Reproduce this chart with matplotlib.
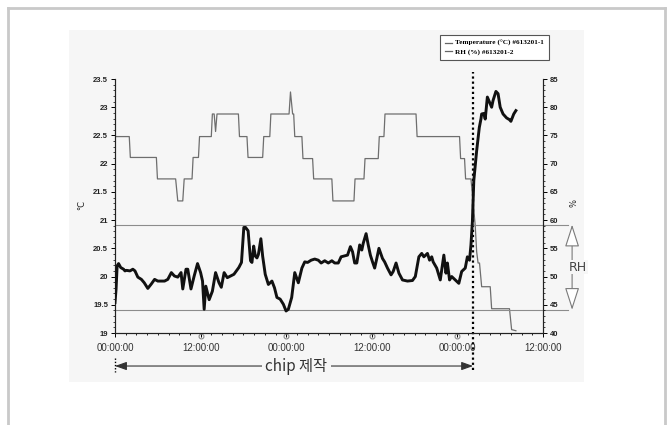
import matplotlib
matplotlib.use("Agg")
import matplotlib.pyplot as plt
import numpy as np
from matplotlib.lines import Line2D
from matplotlib.patches import Rectangle
from matplotlib.ticker import MultipleLocator, FuncFormatter

# ---------------- data ----------------
temp_hours = [0, 2.0, 2.15, 5.8, 5.95, 8.5, 8.8, 9.5, 9.7, 10.8, 10.95, 11.7, 11.85,
              13.5, 13.65, 13.9, 14.1, 14.3, 17.3, 17.45, 18.5, 18.65, 20.7, 20.85,
              21.7, 21.85, 24.4, 24.6, 24.9, 25.05, 25.2, 26.2, 26.35, 27.7, 27.85,
              30.4, 30.55, 33.5, 33.65, 34.9, 35.05, 36.9, 37.05, 37.7, 37.85, 42.2,
              42.35, 48.3, 48.45, 49.0, 49.15, 49.9, 50.2, 50.5, 50.7, 50.9, 51.1,
              51.4, 52.6, 52.8, 55.3, 55.6, 56.2]
temp_vals = [22.48, 22.48, 22.11, 22.11, 21.73, 21.73, 21.34, 21.34, 21.73, 21.73, 22.11, 22.11, 22.48,
             22.48, 22.88, 22.88, 22.57, 22.88, 22.88, 22.48, 22.48, 22.11, 22.11, 22.48,
             22.48, 22.88, 22.88, 23.27, 22.88, 22.88, 22.48, 22.48, 22.09, 22.09, 21.73,
             21.73, 21.34, 21.34, 21.73, 21.73, 22.09, 22.09, 22.48, 22.48, 22.88, 22.88,
             22.48, 22.48, 22.09, 22.09, 21.73, 21.73, 21.32, 20.9, 20.44, 20.24, 20.24,
             19.82, 19.82, 19.43, 19.43, 19.06, 19.04]

rh_hours = [0.0, 0.15, 0.3, 0.5, 0.8, 1.2, 1.4, 1.6, 2.1, 2.5, 2.8, 3.2, 3.7, 4.1, 4.6,
            5.1, 5.55, 6.0, 6.5, 6.95, 7.4, 7.9, 8.33, 8.8, 9.26, 9.5, 9.95, 10.2, 10.65,
            11.1, 11.57, 12.0, 12.27, 12.5, 12.73, 13.2, 13.65, 14.1, 14.58, 14.9, 15.3,
            15.74, 16.2, 16.67, 17.36, 17.73, 18.06, 18.3, 18.66, 19.0, 19.2, 19.44, 19.68,
            19.9, 20.1, 20.45, 20.7, 21.06, 21.5, 22.0, 22.36, 22.7, 23.15, 23.6, 23.98,
            24.3, 24.77, 25.2, 25.7, 26.2, 26.6, 27.0, 27.5, 28.0, 28.5, 28.9, 29.4, 29.9,
            30.4, 30.8, 31.3, 31.7, 32.6, 33.0, 33.3, 33.6, 33.9, 34.3, 34.6, 34.8, 35.2,
            35.5, 35.8, 36.1, 36.4, 36.7, 37.0, 37.5, 37.8, 38.2, 38.7, 39.0, 39.4, 39.8,
            40.3, 41.0, 41.7, 42.1, 42.6, 43.0, 43.3, 43.8, 44.1, 44.4, 44.6, 45.1, 45.6,
            46.1, 46.4, 46.6, 46.9, 47.2, 47.7, 48.2, 48.6, 49.1, 49.4, 49.7, 49.9, 50.1,
            50.2, 50.3, 50.7, 51.07, 51.3, 51.4, 51.7, 51.9, 52.2, 52.5, 52.8, 53.0, 53.4,
            53.7, 54.0, 54.4, 54.9, 55.3, 55.5, 55.9, 56.2]
rh_vals = [45.4, 47.8, 51.9, 52.3, 51.6, 51.3, 51.0, 51.1, 51.0, 51.3, 51.0, 49.9, 49.5, 48.9, 47.9,
           48.7, 49.5, 49.2, 49.2, 49.2, 49.5, 50.7, 50.1, 49.9, 50.7, 47.8, 51.3, 51.3, 47.8,
           50.1, 52.3, 50.7, 49.2, 44.2, 48.3, 45.9, 47.4, 50.7, 48.9, 48.1, 50.7,
           49.8, 50.1, 50.4, 51.6, 52.5, 58.7, 58.7, 58.1, 52.8, 52.5, 55.4, 53.6,
           53.3, 53.9, 56.7, 53.6, 50.4, 48.6, 49.2, 48.0, 46.3, 46.0, 45.1, 43.9,
           44.2, 46.3, 50.7, 48.9, 51.5, 52.6, 52.5, 52.9, 53.1, 52.9, 52.4, 52.8, 52.4,
           52.8, 52.4, 52.4, 53.5, 53.8, 55.3, 54.4, 52.4, 52.4, 55.6, 54.7, 55.9, 57.6,
           55.6, 53.8, 52.6, 51.5, 53.2, 55.0, 53.2, 52.6, 51.5, 50.3, 50.9, 52.4, 50.6,
           49.4, 49.2, 49.3, 50.0, 53.5, 54.1, 53.5, 54.1, 52.9, 53.5, 52.6, 51.5, 49.4,
           53.8, 50.6, 52.4, 49.4, 50.0, 49.4, 48.8, 50.9, 51.5, 53.5, 52.9, 55.6, 59.7,
           63.2, 67.0, 72.3, 76.4, 77.9, 78.8, 78.9, 77.9, 81.8, 80.9, 80.0, 81.2, 82.8,
           82.4, 80.0, 78.8, 78.1, 77.8, 77.5, 78.8, 79.4]

x_ticks = [0, 12, 24, 36, 48, 60]
x_ticklabels = ["00:00:00", "12:00:00", "00:00:00", "12:00:00", "00:00:00", "12:00:00"]
marker_hours = [12, 24, 36, 48]
temp_ticks = [19, 19.5, 20, 20.5, 21, 21.5, 22, 22.5, 23, 23.5]
rh_ticks = [40, 45, 50, 55, 60, 65, 70, 75, 80, 85]
rh_band = [44.1, 59.2]
chip_end = 50.2
legend_labels = ["Temperature (°C) #613201-1", "RH (%) #613201-2"]
chip_label = "chip 제작"

# ---------------- figure ----------------
W, H = 670, 425
fig = plt.figure(figsize=(W / 100, H / 100), dpi=100)
fig.patch.set_facecolor("white")

bg = "#f6f6f6"
fig.patches.append(Rectangle((69 / W, 1 - 382 / H), (584 - 69) / W, (382 - 30) / H,
                             transform=fig.transFigure, facecolor=bg, edgecolor="none", zorder=-10))
fc = "#c9c9c9"
fig.add_artist(Line2D([8 / W, 8 / W], [0, 1 - 8 / H], color=fc, lw=2))
fig.add_artist(Line2D([8 / W, 665 / W], [1 - 8 / H, 1 - 8 / H], color=fc, lw=2))
fig.add_artist(Line2D([665 / W, 665 / W], [0, 1 - 8 / H], color=fc, lw=2))

ax = fig.add_axes([115 / W, 1 - 333 / H, (543 - 115) / W, (333 - 79) / H])
ax.set_facecolor("none")
ax2 = ax.twinx()
ax2.set_facecolor("none")

ax.plot(temp_hours, temp_vals, color="#6e6e6e", lw=0.9, zorder=2)
ax2.plot(rh_hours, rh_vals, color="#111111", lw=2.1, zorder=3, solid_joinstyle="round")

ax.set_xlim(0, 60)
ax.set_ylim(19, 23.5)
ax2.set_ylim(40, 85)

for a in (ax, ax2):
    a.spines["top"].set_visible(False)
    for s in ("left", "right", "bottom"):
        a.spines[s].set_linewidth(0.8)
        a.spines[s].set_color("#222")

ax.set_xticks(x_ticks)
ax.set_xticklabels(x_ticklabels, fontsize=7, color="#333", family="Liberation Sans")
ax.xaxis.set_minor_locator(MultipleLocator(1.5))
ax.tick_params(axis="x", which="major", length=3, width=0.7, pad=4)
ax.tick_params(axis="x", which="minor", length=1.5, width=0.6)

ax.set_yticks(temp_ticks)
ax.yaxis.set_major_formatter(FuncFormatter(lambda v, p: f"{v:g}"))
ax.yaxis.set_minor_locator(MultipleLocator(0.1))
ax.tick_params(axis="y", which="major", labelsize=5.5, length=3, width=0.7, pad=2)
ax.tick_params(axis="y", which="minor", length=1.5, width=0.5)

ax2.set_yticks(rh_ticks)
ax2.yaxis.set_major_formatter(FuncFormatter(lambda v, p: f"{v:g}"))
ax2.yaxis.set_minor_locator(MultipleLocator(1))
ax2.tick_params(axis="y", which="major", labelsize=5.5, length=3, width=0.7, pad=2)
ax2.tick_params(axis="y", which="minor", length=1.5, width=0.5)
for t in ax.get_yticklabels() + ax2.get_yticklabels():
    t.set_fontweight("bold")
    t.set_family("Liberation Sans")
    t.set_color("#222")

# tick circles
ax.plot(marker_hours, [-0.012] * len(marker_hours), "o", mfc="none", mec="#8a8a8a", ms=3.5,
        mew=0.8, transform=ax.get_xaxis_transform(), clip_on=False, zorder=5)

# axis unit labels
fig.text(82 / W, 1 - 205 / H, "°C", rotation=90, fontsize=6, ha="center", va="center", color="#222")
fig.text(574 / W, 1 - 203 / H, "%", rotation=90, fontsize=6, ha="center", va="center", color="#222")

# RH band lines
ytr2 = ax2.get_yaxis_transform()
for v in rh_band:
    ax2.plot([0, 1.058], [v, v], transform=ytr2, clip_on=False, color="#8c8c8c", lw=0.8, zorder=1)
ax2.annotate("", xy=(1.068, rh_band[0]), xytext=(1.068, rh_band[1]), xycoords=ytr2,
             textcoords=ytr2, annotation_clip=False,
             arrowprops=dict(arrowstyle="<|-|>,head_length=1.4,head_width=0.45",
                             facecolor="white", edgecolor="#7a7a7a", lw=0.8,
                             shrinkA=0, shrinkB=0))
ax2.text(1.082, sum(rh_band) / 2, "RH", transform=ytr2, fontsize=9, color="#444",
         ha="center", va="center", bbox=dict(facecolor=bg, edgecolor="none", pad=0.5))

# chip production marker
xtr = ax.get_xaxis_transform()
ax.plot([chip_end, chip_end], [-0.146, 1.028], transform=xtr, clip_on=False,
        ls=(0, (1, 1.3)), color="black", lw=1.6, zorder=6)
ax.plot([0, 0], [-0.10, -0.155], transform=xtr, clip_on=False,
        ls=(0, (1, 1.3)), color="black", lw=1.0, zorder=6)
ax.annotate("", xy=(0, -0.13), xytext=(chip_end, -0.13), xycoords=xtr, textcoords=xtr,
            annotation_clip=False,
            arrowprops=dict(arrowstyle="<|-|>,head_length=0.7,head_width=0.25",
                            color="#333", lw=0.8, shrinkA=0, shrinkB=0))
ax.text(25.4, -0.13, chip_label, transform=xtr, fontsize=11, color="#333", ha="center",
        va="center", family=["Noto Sans CJK KR", "DejaVu Sans"],
        bbox=dict(facecolor=bg, edgecolor="none", pad=2.5), zorder=7)

# legend
h1 = Line2D([], [], color="#666", lw=0.9)
h2 = Line2D([], [], color="#666", lw=0.9)
leg = ax2.legend([h1, h2], legend_labels, loc="upper left",
                 bbox_to_anchor=(440 / W, 1 - 35 / H), bbox_transform=fig.transFigure,
                 prop=dict(family="Liberation Serif", weight="bold", size=5.2),
                 frameon=True, fancybox=False, edgecolor="#555", framealpha=1,
                 handlelength=1.0, borderpad=0.7, labelspacing=0.25, handletextpad=0.4,
                 borderaxespad=0)
leg.get_frame().set_linewidth(0.8)

fig.savefig("out.png", dpi=100)
